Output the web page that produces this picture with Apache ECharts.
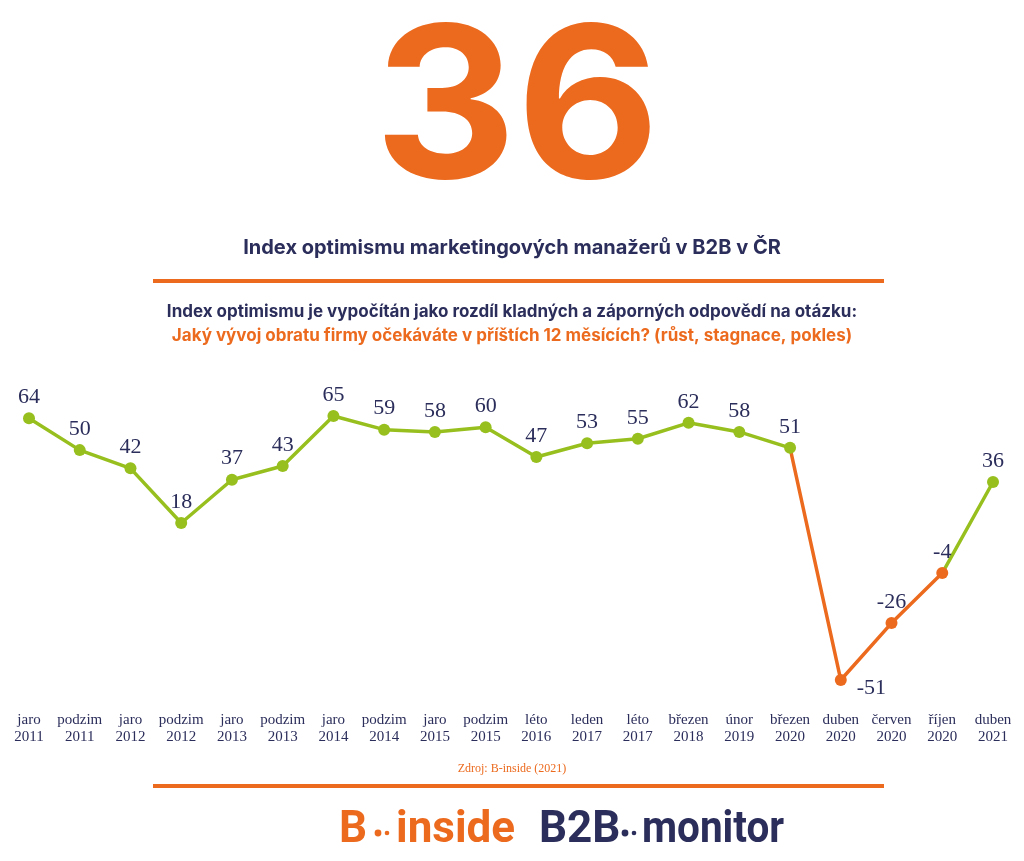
<!DOCTYPE html>
<html>
<head>
<meta charset="utf-8">
<script src="https://cdn.jsdelivr.net/npm/echarts@6/dist/echarts.min.js"></script>
<style>html,body{margin:0;padding:0;background:#fff}#c{width:1024px;height:861px}</style>
</head>
<body>
<div id="c"></div>
<script>
const periods = ['jaro','podzim','jaro','podzim','jaro','podzim','jaro','podzim','jaro','podzim','léto','leden','léto','březen','únor','březen','duben','červen','říjen','duben'];
const years = ['2011','2011','2012','2012','2013','2013','2014','2014','2015','2015','2016','2017','2017','2018','2019','2020','2020','2020','2020','2021'];
const values = [64,50,42,18,37,43,65,59,58,60,47,53,55,62,58,51,-51,-26,-4,36];
const dropStart = 15; // březen 2020
const dropEnd = 18;   // říjen 2020
const headline = '36';
const title = 'Index optimismu marketingových manažerů v B2B v ČR';
const sub1 = 'Index optimismu je vypočítán jako rozdíl kladných a záporných odpovědí na otázku:';
const sub2 = 'Jaký vývoj obratu firmy očekáváte v příštích 12 měsících? (růst, stagnace, pokles)';
const source = 'Zdroj: B-inside (2021)';

const NAVY = '#2b2d5a', ORANGE = '#ec6a1e', GREEN = '#97bf1d';
const categories = periods.map((p, i) => p + '\n' + years[i]);
const seriesData = values.map((v, i) => {
  const d = { value: v };
  if (v === -51) d.label = { position: 'right', distance: 10, offset: [0, 8] };
  return d;
});

const LOGO = '700 44px Roboto';
function logoText(x, txt, color, sx) {
  return { type: 'text', x: x, y: 831, scaleX: sx || 1, style: { x: 0, y: 0, text: txt, fill: color, font: LOGO, verticalAlign: 'middle', align: 'left' } };
}
function dots(x, color) {
  return { type: 'group', children: [
    { type: 'circle', shape: { cx: x, cy: 833, r: 3.4 }, style: { fill: color } },
    { type: 'circle', shape: { cx: x + 9, cy: 833, r: 2.3 }, style: { fill: color } }
  ] };
}

const chart = echarts.init(document.getElementById('c'));
chart.setOption({
  animation: false,
  grid: { left: 29, right: 31, top: 404.6, bottom: 160.5 },
  xAxis: {
    type: 'category', data: categories, boundaryGap: false,
    axisLine: { show: false }, axisTick: { show: false }, splitLine: { show: false },
    axisLabel: { interval: 0, margin: 11, color: NAVY, fontFamily: 'Liberation Serif', fontSize: 15, lineHeight: 17 }
  },
  yAxis: { type: 'value', min: -60, max: 70, show: false, splitLine: { show: false } },
  visualMap: {
    type: 'piecewise', show: false, dimension: 0, seriesIndex: 0,
    pieces: [{ gt: dropStart, lte: dropEnd, color: ORANGE }],
    outOfRange: { color: GREEN }
  },
  series: [{
    type: 'line', data: seriesData, symbol: 'circle', symbolSize: 12,
    lineStyle: { width: 3.5 },
    label: { show: true, position: 'top', distance: 4, color: NAVY, fontFamily: 'Liberation Serif', fontSize: 22 },
    z: 3
  }],
  graphic: [
    { type: 'text', x: 517, y: 8, scaleX: 1.04, style: { x: 0, y: 0, text: headline, fill: ORANGE, font: '700 212px Inter', align: 'center', verticalAlign: 'top' } },
    { type: 'text', left: 'center', top: 238, style: { text: title, fill: NAVY, font: '700 20px Inter' } },
    { type: 'rect', shape: { x: 153, y: 279, width: 731, height: 4 }, style: { fill: ORANGE } },
    { type: 'text', left: 'center', top: 303, style: { text: sub1, fill: NAVY, font: '700 17px Inter' } },
    { type: 'text', left: 'center', top: 327, style: { text: sub2, fill: ORANGE, font: '700 17px Inter' } },
    { type: 'text', left: 'center', top: 763, style: { text: source, fill: ORANGE, font: '12px Liberation Serif' } },
    { type: 'rect', shape: { x: 153, y: 784, width: 731, height: 4 }, style: { fill: ORANGE } },
    logoText(339, 'B', ORANGE), dots(378, ORANGE), logoText(396, 'inside', ORANGE),
    logoText(539, 'B2B', NAVY), dots(625, NAVY), logoText(642, 'monitor', NAVY, 0.92)
  ]
});
</script>
</body>
</html>
